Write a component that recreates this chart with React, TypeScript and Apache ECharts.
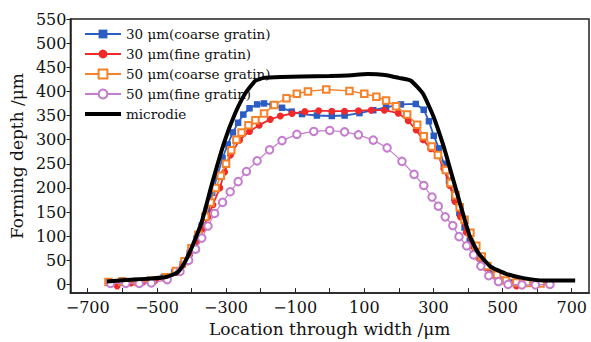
import React, { useEffect, useRef } from "react";
import * as echarts from "echarts";

const coarse30: [number, number][] = [
  [-640, 6], [-600, 8], [-560, 7], [-520, 10], [-480, 15], [-450, 25], [-425, 42], [-405, 65],
  [-385, 95], [-370, 122], [-355, 155], [-340, 190], [-325, 225], [-310, 262], [-295, 290],
  [-280, 315], [-265, 335], [-250, 352], [-232, 365], [-210, 373], [-190, 375], [-165, 372],
  [-138, 366], [-110, 358], [-80, 353], [-37, 350], [6, 349], [43, 350], [86, 355], [126, 361],
  [163, 367], [206, 373], [249, 374], [272, 362], [287, 338], [301, 308], [316, 282], [330, 250],
  [345, 215], [360, 180], [375, 148], [390, 118], [405, 90], [420, 68], [440, 45], [465, 25],
  [495, 10], [530, 4], [570, 3], [610, 2],
];

const fine30: [number, number][] = [
  [-640, 4], [-615, -3], [-575, 3], [-540, 5], [-505, 8], [-470, 14], [-445, 25], [-425, 40],
  [-405, 62], [-385, 88], [-368, 115], [-352, 140], [-338, 165], [-318, 200], [-304, 233],
  [-287, 268], [-261, 299], [-232, 317], [-204, 330], [-172, 342], [-143, 349], [-109, 354],
  [-72, 358], [-32, 360], [6, 359], [43, 359], [83, 360], [120, 361], [158, 361], [198, 355],
  [227, 339], [250, 320], [270, 300], [292, 281], [313, 268], [330, 240], [347, 205], [362, 172],
  [378, 140], [395, 108], [412, 80], [430, 55], [450, 35], [475, 18], [505, 8], [540, -3],
  [575, 2], [615, 4],
];

const coarse50: [number, number][] = [
  [-640, 5], [-600, 6], [-555, 5], [-515, 8], [-475, 15], [-445, 28], [-420, 48], [-400, 75],
  [-380, 103], [-360, 140], [-345, 170], [-330, 200], [-315, 225], [-300, 250], [-285, 278],
  [-270, 300], [-255, 315], [-235, 330], [-215, 340], [-190, 354], [-160, 372], [-125, 386],
  [-95, 395], [-63, 400], [-10, 404], [57, 401], [100, 395], [135, 389], [163, 381], [192, 369],
  [224, 352], [253, 331], [272, 307], [295, 286], [313, 268], [336, 237], [350, 210], [364, 185],
  [376, 160], [390, 134], [407, 107], [424, 80], [440, 58], [456, 38], [484, 20], [510, 8],
  [540, 4], [570, 3], [610, 2],
];

const fine50: [number, number][] = [
  [-634, 2], [-590, 2], [-551, 2], [-516, 3], [-470, 10], [-433, 27], [-408, 50], [-388, 73],
  [-370, 96], [-352, 121], [-333, 147], [-310, 170], [-288, 192], [-265, 213], [-241, 234],
  [-210, 256], [-174, 279], [-138, 298], [-95, 311], [-46, 317], [0, 319], [43, 316], [83, 310],
  [126, 299], [166, 283], [209, 255], [244, 228], [272, 205], [296, 181], [314, 162], [334, 140],
  [356, 122], [374, 99], [396, 80], [416, 61], [437, 38], [460, 18], [488, 6], [516, 0],
  [556, -1], [595, -1], [637, 0],
];

const microdie: [number, number][] = [
  [-645, 6], [-590, 9], [-520, 12], [-470, 16], [-440, 25], [-420, 45], [-400, 75], [-370, 130],
  [-340, 210], [-305, 295], [-275, 352], [-245, 395], [-215, 422], [-190, 428], [-140, 430],
  [-80, 431], [0, 432], [50, 433], [110, 436], [160, 434], [200, 428], [235, 422], [270, 395],
  [300, 348], [330, 285], [350, 235], [380, 160], [405, 100], [430, 65], [465, 37], [510, 22],
  [560, 13], [620, 8], [710, 8],
];

const xTicks = [-700, -600, -500, -400, -300, -200, -100, 0, 100, 200, 300, 400, 500, 600, 700];
const xLabels = [-700, -500, -300, -100, 100, 300, 500, 700];
const yTicks = [0, 50, 100, 150, 200, 250, 300, 350, 400, 450, 500, 550];

const names = [
  "30 μm(coarse gratin)",
  "30 μm(fine gratin)",
  "50 μm(coarse gratin)",
  "50 μm(fine gratin)",
  "microdie",
];

const FONT = "DejaVu Serif";

export default function App() {
  const ref = useRef<HTMLDivElement>(null);
  useEffect(() => {
    if (!ref.current) return;
    const chart = echarts.init(ref.current, null, { renderer: "svg" });
    const fmt = (v: number) => (v < 0 ? "\u2212" + Math.abs(v) : String(v));
    chart.setOption({
      animation: false,
      backgroundColor: "#fff",
      grid: {
        left: 70,
        right: 2,
        top: 19,
        bottom: 48,
        show: true,
        borderColor: "#222",
        borderWidth: 1.5,
      },
      legend: {
        left: 78,
        top: 22,
        orient: "vertical",
        itemWidth: 36,
        itemHeight: 11,
        itemGap: 6,
        data: [
          { name: names[0] },
          { name: names[1] },
          { name: names[2] },
          { name: names[3] },
          { name: names[4], itemStyle: { opacity: 0 }, lineStyle: { width: 4 } },
        ],
        textStyle: { fontFamily: FONT, fontSize: 13.5, color: "#111" },
      },
      xAxis: {
        type: "value",
        min: -750,
        max: 750,
        axisLine: { show: true, onZero: false, lineStyle: { color: "#222", width: 1.5 } },
        axisTick: { show: true, inside: true, length: 5, customValues: xTicks, lineStyle: { color: "#222" } },
        axisLabel: {
          customValues: xLabels,
          formatter: fmt,
          fontFamily: FONT,
          fontSize: 16,
          color: "#111",
          margin: 6,
        },
        splitLine: { show: false },
        name: "Location through width /μm",
        nameLocation: "middle",
        nameGap: 25,
        nameTextStyle: { fontFamily: FONT, fontSize: 17, color: "#111" },
      },
      yAxis: {
        type: "value",
        min: -18,
        max: 550,
        axisLine: { show: true, onZero: false, lineStyle: { color: "#222", width: 1.5 } },
        axisTick: { show: true, inside: false, length: 4, customValues: yTicks, lineStyle: { color: "#222" } },
        axisLabel: {
          customValues: yTicks,
          fontFamily: FONT,
          fontSize: 16,
          color: "#111",
          margin: 4,
        },
        splitLine: { show: false },
        name: "Forming depth /μm",
        nameLocation: "middle",
        nameGap: 44,
        nameTextStyle: { fontFamily: FONT, fontSize: 17, color: "#111" },
      },
      series: [
        {
          name: names[0],
          type: "line",
          data: coarse30,
          symbol: "rect",
          symbolSize: 6.5,
          itemStyle: { color: "#2a5cc4" },
          lineStyle: { width: 1.8, color: "#2a5cc4" },
          z: 3,
        },
        {
          name: names[1],
          type: "line",
          data: fine30,
          symbol: "circle",
          symbolSize: 7,
          itemStyle: { color: "#f02a2a" },
          lineStyle: { width: 1.8, color: "#f02a2a" },
          z: 4,
        },
        {
          name: names[2],
          type: "line",
          data: coarse50,
          symbol: "emptyRect",
          symbolSize: 6.5,
          itemStyle: { color: "#f5822a", borderWidth: 1.1 },
          lineStyle: { width: 1.4, color: "#f5822a" },
          z: 5,
        },
        {
          name: names[3],
          type: "line",
          data: fine50,
          symbol: "emptyCircle",
          symbolSize: 7.5,
          itemStyle: { color: "#c47ccc", borderWidth: 1.1 },
          lineStyle: { width: 1.2, color: "#c47ccc" },
          z: 6,
        },
        {
          name: names[4],
          type: "line",
          data: microdie,
          symbol: "none",
          smooth: 0.15,
          itemStyle: { color: "#000" },
          lineStyle: { width: 4, color: "#000" },
          z: 7,
        },
      ],
    });
    return () => chart.dispose();
  }, []);
  return (
    <div
      ref={ref}
      style={{ position: "absolute", left: 0, top: 0, width: 591, height: 342, background: "#fff" }}
    />
  );
}
